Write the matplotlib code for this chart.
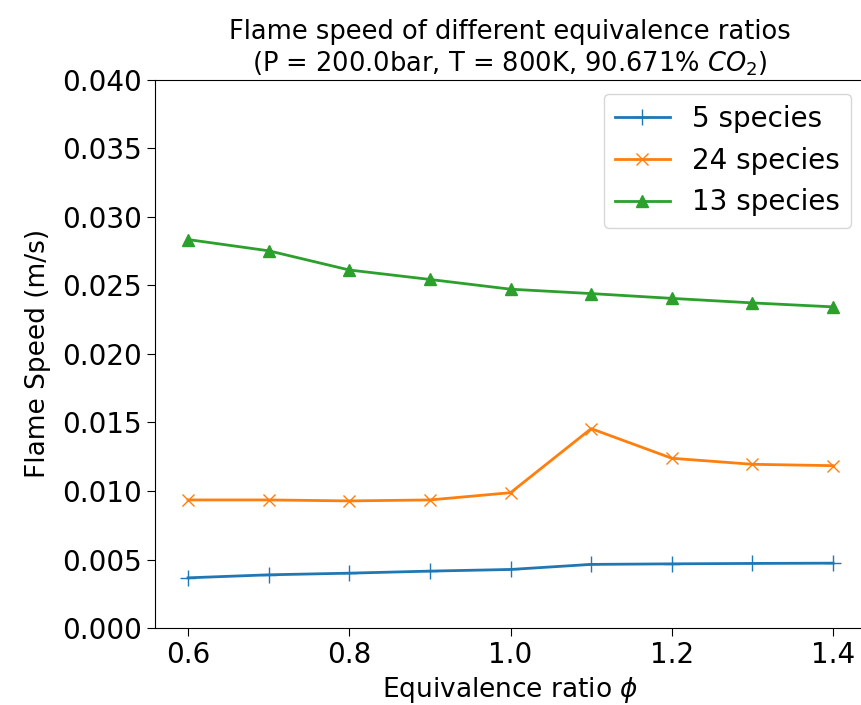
import matplotlib
matplotlib.use("Agg")
import matplotlib.pyplot as plt

# equivalence ratios
phi = [0.6, 0.7, 0.8, 0.9, 1.0, 1.1, 1.2, 1.3, 1.4]

# flame speeds (m/s)
s5 = [0.00367, 0.00389, 0.00401, 0.00416, 0.00428, 0.00465, 0.00469, 0.00472, 0.00474]
s24 = [0.00935, 0.00935, 0.00928, 0.00935, 0.00988, 0.01455, 0.01239, 0.01195, 0.01185]
s13 = [0.02834, 0.02752, 0.02612, 0.02543, 0.02472, 0.02440, 0.02405, 0.02372, 0.02343]

labels = ['5 species', '24 species', '13 species']

fig = plt.figure(figsize=(8.61, 7.05), dpi=100)
# the reference is cropped on the right, so the axes runs past the edge
ax = fig.add_axes([0.180, 0.109, 0.825, 0.778])

ax.plot(phi, s5, marker='+', markersize=11, lw=2, label=labels[0])
ax.plot(phi, s24, marker='x', markersize=9, lw=2, label=labels[1])
ax.plot(phi, s13, marker='^', markersize=9, lw=2, label=labels[2])

ax.set_xlim(0.559, 1.44)
ax.set_ylim(0, 0.040)
ax.set_yticks([0.000, 0.005, 0.010, 0.015, 0.020, 0.025, 0.030, 0.035, 0.040])
ax.set_xticks([0.6, 0.8, 1.0, 1.2, 1.4])
ax.tick_params(labelsize=20, length=6)
ax.set_xlabel(r'Equivalence ratio $\phi$', fontsize=19)
ax.set_ylabel('Flame Speed (m/s)', fontsize=19, labelpad=8)
ax.set_title('Flame speed of different equivalence ratios\n'
             r'(P = 200.0bar, T = 800K, 90.671% $CO_2$)', fontsize=18.5)
ax.legend(fontsize=20, loc='upper right')

fig.savefig('out.png', dpi=100)
